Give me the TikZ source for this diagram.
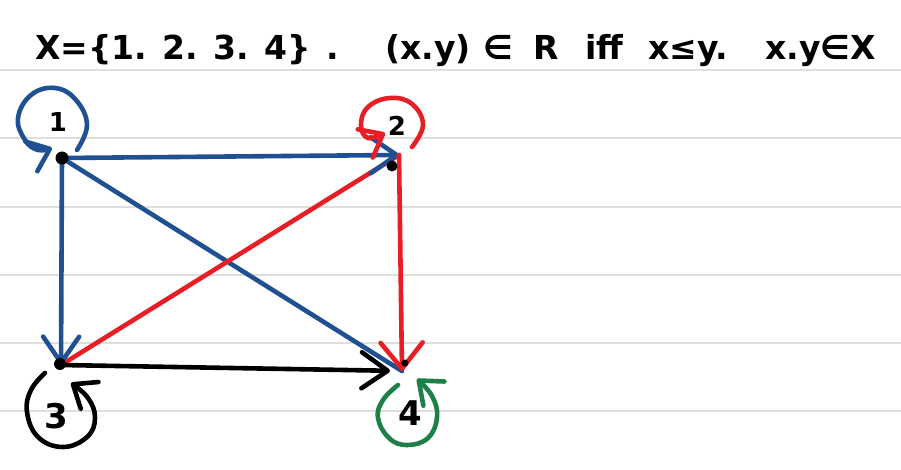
\documentclass[tikz,border=0pt]{standalone}
\usepackage{fontspec}
\setmainfont{DejaVu Sans}
\usetikzlibrary{arrows.meta}
\definecolor{pblue}{RGB}{31,80,145}
\definecolor{pred}{RGB}{232,30,38}
\definecolor{pgreen}{RGB}{28,128,72}
\definecolor{ruleline}{RGB}{222,222,222}
\tikzset{
  ink/.style={line width=4.6pt, line cap=round, line join=round},
  barb/.style={-{Straight Barb[length=26pt,width=36pt,line cap=round,line join=round]}},
  loopbarb/.style={-{Straight Barb[length=20pt,width=32pt,line cap=round,line join=round]}},
  title/.style={anchor=base west, inner sep=0pt, font=\bfseries\fontsize{33}{38}\selectfont},
  vlabel/.style={inner sep=0pt, font=\bfseries\fontsize{#1}{#1}\selectfont},
  dot/.style={circle, fill=black, inner sep=0pt, minimum size=#1},
  paperline/.style={ruleline, line width=2pt}
}
\begin{document}
\begin{tikzpicture}[x=1pt,y=-1pt]
  \useasboundingbox (0,0) rectangle (901,470);
  \fill[white] (0,0) rectangle (901,470);
  % ruled paper
  \foreach \yy in {70,138,207,275,343,411}
    \draw[paperline] (0,\yy) -- (901,\yy);

  % title
  \node[title] (t1) at (35,60) {X=\{1. 2. 3. 4\}};
  \node[title] (t2) at (326,60) {.};
  \node[title] (t3) at (385,60) {(x.y)};
  \node[title] (t4) at (483,60) {∈};
  \node[title] (t5) at (533,60) {R};
  \node[title] (t6) at (585,60) {iff};
  \node[title] (t7) at (648,60) {x≤y.};
  \node[title] (t8) at (765,60) {x.y∈X};

  % vertices
  \coordinate (v1) at (62,158);
  \coordinate (v2) at (399,155);
  \coordinate (v3) at (61,365);
  \coordinate (v4) at (402,371);

  % labels
  \node[vlabel=26] (l1) at (58,122) {1};
  \node[vlabel=26] (l2) at (397,126) {2};
  \node[vlabel=34] (l3) at (56,416) {3};
  \node[vlabel=34] (l4) at (410,413) {4};

  % edges
  \draw[ink, pblue] (v1) -- (v4);
  \draw[ink, pred] (v2) -- (v3);
  \draw[ink, pblue, barb] (v1) -- (v2);
  \draw[ink, pblue, barb] (v1) -- (v3);
  \draw[ink, black, barb, shorten >=12pt] (v3) -- (v4);
  \draw[ink, pred, -{Straight Barb[length=26pt,width=42pt,line cap=round,line join=round]}] (v2) -- (v4);

  % dots
  \node[dot=13pt] (d1) at (62,158) {};
  \node[dot=11pt] (d2) at (392,166) {};
  \node[dot=12pt] (d3) at (60,364) {};
  \node[dot=7pt] (d4) at (405,363) {};

  % self loops
  \draw[ink, pblue, loopbarb] plot[smooth, tension=0.7] coordinates
    {(77,150) (87,125) (76,100) (55,88) (31,95) (18,118) (25,140) (38,150) (52,148)};
  \draw[ink, pred, loopbarb] plot[smooth, tension=0.7] coordinates
    {(412,147) (423,125) (412,104) (390,98) (368,107) (361,125) (368,138) (385,133)};
  \draw[ink, black, loopbarb] plot[smooth, tension=0.7] coordinates
    {(45,373) (31,390) (27,412) (38,437) (63,447) (87,437) (95,418) (88,398) (71,383)};
  \draw[ink, pgreen, loopbarb] plot[smooth, tension=0.7] coordinates
    {(398,385) (383,400) (378,418) (389,438) (407,445) (428,438) (437,417) (432,396) (417,379)};
\end{tikzpicture}
\end{document}
